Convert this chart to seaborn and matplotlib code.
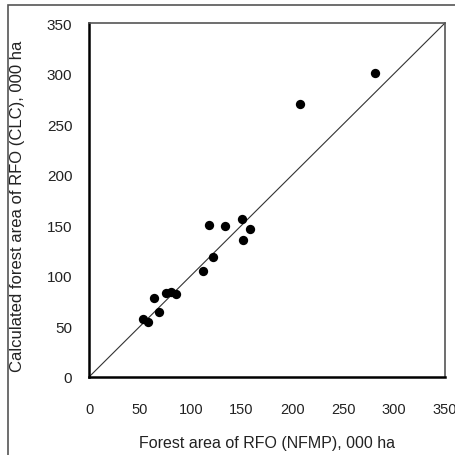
import numpy as np
import pandas as pd
import matplotlib
matplotlib.use("Agg")
import matplotlib.pyplot as plt
from matplotlib.patches import Rectangle
import seaborn as sns

# Forest area of RFO: NFMP (x) vs CLC-calculated (y), 000 ha
nfmp = [53, 58, 64, 69, 76, 81, 86, 112, 118, 122, 134, 150, 151, 158, 207, 281]
clc = [57, 54, 78, 64, 83, 84, 82, 105, 150, 119, 149, 156, 135, 146, 270, 301]
ticks = [0, 50, 100, 150, 200, 250, 300, 350]

df = pd.DataFrame({"nfmp": nfmp, "clc": clc})

sns.set_style("white")
plt.rcParams["font.family"] = ["Liberation Sans", "DejaVu Sans"]

fig = plt.figure(figsize=(4.55, 4.56), dpi=100)
ax = fig.add_axes([89 / 455, 1 - 378 / 456, 356 / 455, 354 / 456])

# outer frame of the chart area
fig.patches.append(Rectangle((8 / 455, -0.05), 1.2, 1 - 6 / 456 + 0.05,
                             transform=fig.transFigure, fill=False,
                             edgecolor="#555555", linewidth=1.2))

# 1:1 line
ax.plot([0, 350], [0, 350], color="#333333", linewidth=0.8, zorder=1)

sns.scatterplot(data=df, x="nfmp", y="clc", ax=ax, color="black",
                s=45, edgecolor="black", linewidth=0, zorder=3)

ax.set_xlim(0, 350)
ax.set_ylim(0, 350)
ax.set_xticks(ticks)
ax.set_yticks(ticks)
ax.tick_params(axis="both", direction="in", length=6, width=1.2,
               color="black", labelcolor="#222222")
ax.tick_params(axis="x", pad=18, labelsize=10.5)
ax.tick_params(axis="y", pad=12, labelsize=11)

for side in ["left", "bottom"]:
    ax.spines[side].set_color("black")
    ax.spines[side].set_linewidth(1.8)
for side in ["top", "right"]:
    ax.spines[side].set_color("#555555")
    ax.spines[side].set_linewidth(1.2)

ax.set_xlabel("Forest area of RFO (NFMP), 000 ha", fontsize=11.5, color="#222222")
ax.set_ylabel("Calculated forest area of RFO (CLC), 000 ha", fontsize=12, color="#222222")
ax.xaxis.set_label_coords(0.5, -0.163)
ax.yaxis.set_label_coords(-0.18, 0.486)

plt.savefig("out.png", dpi=100)
